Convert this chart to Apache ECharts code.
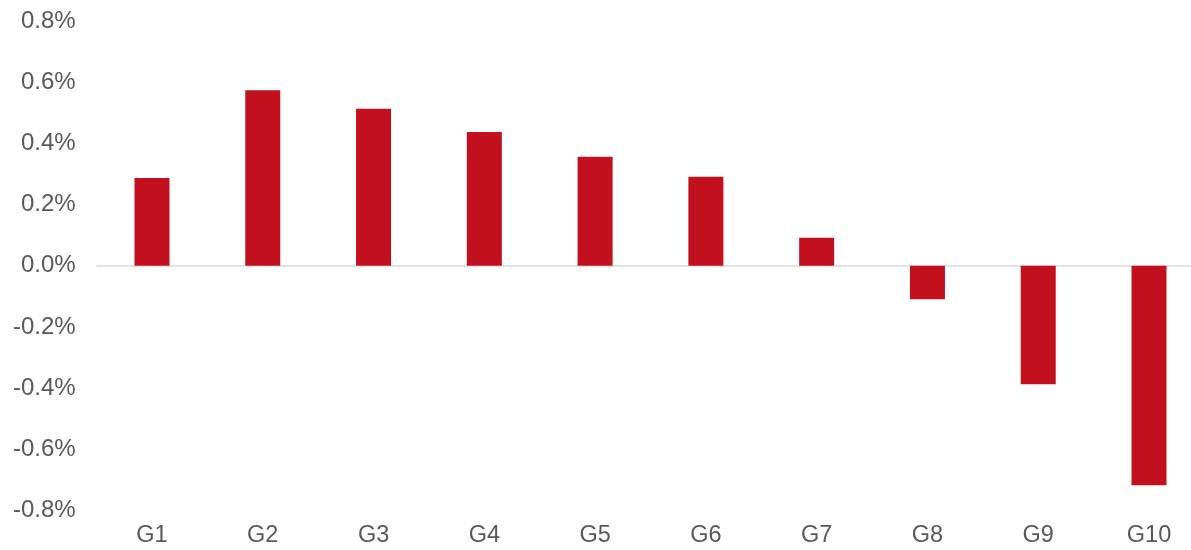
<!DOCTYPE html>
<html>
<head>
<meta charset="utf-8">
<script src="https://cdn.jsdelivr.net/npm/echarts@6/dist/echarts.min.js"></script>
<style>
html,body{margin:0;padding:0;background:#fff;overflow:hidden;}
#chart{width:1191px;height:550px;}
</style>
</head>
<body>
<div id="chart"></div>
<script>
const categories = ['G1','G2','G3','G4','G5','G6','G7','G8','G9','G10'];
const values = [0.287, 0.574, 0.513, 0.437, 0.356, 0.291, 0.092, -0.109, -0.387, -0.717];
const yMin = -0.8, yMax = 0.8, yStep = 0.2;

const chart = echarts.init(document.getElementById('chart'));
chart.setOption({
  animation: false,
  backgroundColor: '#ffffff',
  grid: { left: 96.6, width: 1107.8, top: 21, height: 489.6, outerBoundsMode: 'none', containLabel: false },
  xAxis: {
    type: 'category',
    data: categories,
    position: 'bottom',
    axisLine: { show: false, onZero: false },
    axisTick: { show: false },
    axisLabel: { color: '#595959', fontSize: 23.5, fontFamily: 'Liberation Sans, Arial, sans-serif', margin: 13, hideOverlap: false }
  },
  yAxis: {
    type: 'value',
    min: yMin, max: yMax, interval: yStep,
    axisLine: { show: false },
    axisTick: { show: false },
    splitLine: { show: false },
    axisLabel: {
      color: '#595959', fontSize: 24, fontFamily: 'Liberation Sans, Arial, sans-serif', margin: 21,
      formatter: v => v.toFixed(1) + '%'
    }
  },
  series: [{
    type: 'bar',
    data: values,
    barWidth: 35,
    itemStyle: { color: '#C3101E' },
    z: 2,
    markLine: {
      silent: true,
      symbol: 'none',
      label: { show: false },
      lineStyle: { color: '#d9d9d9', width: 1.5, type: 'solid' },
      data: [{ yAxis: 0 }],
      z: 1
    }
  }]
});
</script>
</body>
</html>
